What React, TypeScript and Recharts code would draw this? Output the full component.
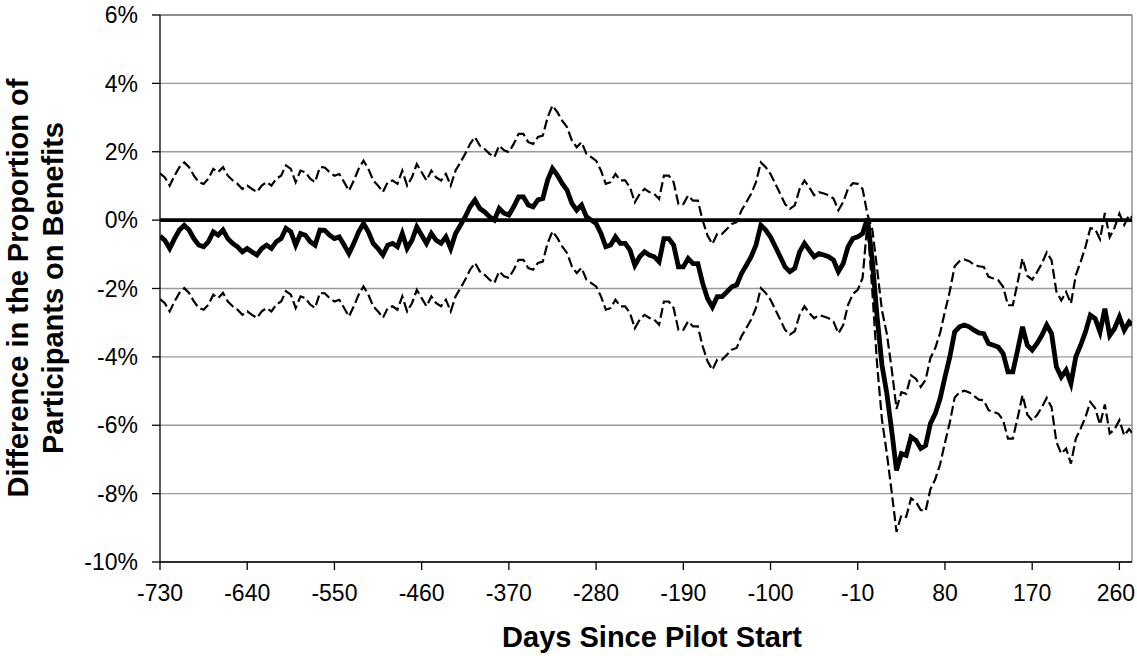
import React from "react";
import { LineChart, Line, XAxis, YAxis, CartesianGrid, ReferenceLine } from "recharts";

const days = [
  -730, -725, -720, -715, -710, -705, -700, -695, -690, -685, -680, -675, -670, -665, -660, -655, -650, -645, -640, -635,
  -630, -625, -620, -615, -610, -605, -600, -595, -590, -585, -580, -575, -570, -565, -560,
  -555, -550, -545, -540, -535, -530, -525, -520, -515, -510, -505, -500, -495, -490, -485, -480, -475, -470, -465, -460,
  -455, -450, -445, -440, -435, -430, -425, -420, -415, -410, -405, -400, -395,
  -390, -385, -380, -375, -370, -365, -360, -355, -350, -345, -340, -335, -330, -325, -320, -315, -310, -305, -300, -295,
  -290, -285, -280, -275, -270, -265, -260, -255, -250, -245, -240, -235, -230, -225,
  -220, -215, -210, -205, -200, -195, -190, -185, -180, -175, -170, -165, -160, -155, -150, -145, -140, -135, -130, -125,
  -120, -115, -110, -105, -100, -95, -90, -85, -80, -75, -70, -65, -60,
  -55, -50, -45, -40, -35, -30, -25, -20, -15, -10, -5, 0, 5, 10, 15, 20, 25, 30, 35, 40,
  45, 50, 55, 60, 65, 70, 75, 80, 85, 90, 95, 100, 105, 110, 115,
  120, 125, 130, 135, 140, 145, 150, 155, 160, 165, 170, 175, 180, 185, 190, 195, 200, 205, 210, 215,
  220, 225, 230, 235, 240, 245, 250, 255, 260, 265, 270, 273,
];

const central = [
  -0.47, -0.59, -0.83, -0.54, -0.29, -0.15, -0.29, -0.54, -0.73, -0.78, -0.63, -0.34, -0.44, -0.29, -0.54, -0.68, -0.78, -0.93, -0.83, -0.93,
  -1.02, -0.83, -0.73, -0.83, -0.63, -0.54, -0.24, -0.34, -0.73, -0.39, -0.44, -0.63, -0.73, -0.29, -0.30,
  -0.44, -0.54, -0.49, -0.73, -0.98, -0.68, -0.34, -0.10, -0.34, -0.68, -0.83, -1.02, -0.73, -0.68, -0.78, -0.39, -0.83, -0.59, -0.20, -0.44,
  -0.68, -0.39, -0.59, -0.68, -0.49, -0.83, -0.39, -0.15, 0.10, 0.39, 0.59, 0.34, 0.24,
  0.10, 0.00, 0.34, 0.20, 0.15, 0.39, 0.68, 0.68, 0.44, 0.39, 0.59, 0.63, 1.17, 1.51, 1.32, 1.07, 0.88, 0.49, 0.29, 0.44,
  0.10, 0.00, -0.10, -0.39, -0.78, -0.73, -0.49, -0.68, -0.68, -0.88, -1.32, -1.07, -0.93, -1.02,
  -1.07, -1.22, -0.54, -0.54, -0.73, -1.37, -1.37, -1.12, -1.27, -1.27, -1.85, -2.29, -2.54, -2.24, -2.24, -2.10, -1.95, -1.90, -1.56, -1.32,
  -1.07, -0.73, -0.15, -0.29, -0.49, -0.78, -1.07, -1.37, -1.51, -1.41, -0.93, -0.68, -0.88,
  -1.07, -0.98, -1.02, -1.07, -1.17, -1.51, -1.27, -0.78, -0.54, -0.49, -0.39, 0.05, -1.17, -2.83, -4.24, -5.07, -6.15, -7.32, -6.83, -6.88,
  -6.34, -6.44, -6.68, -6.59, -5.95, -5.66, -5.22, -4.59, -4.00, -3.27, -3.12, -3.07, -3.12, -3.22, -3.30,
  -3.32, -3.61, -3.66, -3.71, -3.90, -4.44, -4.44, -3.80, -3.12, -3.66, -3.80, -3.61, -3.37, -3.07, -3.32, -4.29, -4.59, -4.39, -4.78, -4.00,
  -3.66, -3.27, -2.78, -2.88, -3.27, -2.59, -3.37, -3.17, -2.83, -3.22, -2.98, -3.07,
];

const upper = [
  1.37, 1.25, 1.01, 1.30, 1.55, 1.69, 1.55, 1.30, 1.11, 1.06, 1.21, 1.50, 1.40, 1.55, 1.30, 1.16, 1.06, 0.91, 1.01, 0.91,
  0.82, 1.01, 1.11, 1.01, 1.21, 1.30, 1.60, 1.50, 1.11, 1.45, 1.40, 1.21, 1.11, 1.55, 1.54,
  1.40, 1.30, 1.35, 1.11, 0.86, 1.16, 1.50, 1.74, 1.50, 1.16, 1.01, 0.82, 1.11, 1.16, 1.06, 1.45, 1.01, 1.25, 1.64, 1.40,
  1.16, 1.45, 1.25, 1.16, 1.35, 1.01, 1.45, 1.69, 1.94, 2.23, 2.43, 2.18, 2.08,
  1.94, 1.84, 2.18, 2.04, 1.99, 2.23, 2.52, 2.52, 2.28, 2.23, 2.43, 2.47, 3.01, 3.35, 3.16, 2.91, 2.72, 2.33, 2.13, 2.28,
  1.94, 1.84, 1.74, 1.45, 1.06, 1.11, 1.35, 1.16, 1.16, 0.96, 0.52, 0.77, 0.91, 0.82,
  0.77, 0.62, 1.30, 1.30, 1.11, 0.47, 0.47, 0.72, 0.57, 0.57, -0.01, -0.45, -0.70, -0.40, -0.40, -0.26, -0.11, -0.06, 0.28, 0.52,
  0.77, 1.11, 1.69, 1.55, 1.35, 1.06, 0.77, 0.47, 0.33, 0.43, 0.91, 1.16, 0.96,
  0.73, 0.82, 0.78, 0.73, 0.63, 0.29, 0.53, 0.92, 1.08, 1.06, 0.91, 0.17, -0.27, -1.43, -2.64, -3.32, -4.35, -5.52, -5.03, -5.08,
  -4.54, -4.64, -4.88, -4.67, -4.03, -3.74, -3.30, -2.67, -2.08, -1.35, -1.20, -1.15, -1.20, -1.30, -1.35,
  -1.37, -1.66, -1.71, -1.76, -1.95, -2.49, -2.49, -1.82, -1.12, -1.63, -1.74, -1.52, -1.27, -0.94, -1.17, -2.09, -2.35, -2.10, -2.44, -1.61,
  -1.22, -0.78, -0.24, -0.26, -0.56, 0.21, -0.50, -0.22, 0.19, -0.14, 0.15, 0.08,
];

const lower = [
  -2.31, -2.43, -2.67, -2.38, -2.13, -1.99, -2.13, -2.38, -2.57, -2.62, -2.47, -2.18, -2.28, -2.13, -2.38, -2.52, -2.62, -2.77, -2.67, -2.77,
  -2.86, -2.67, -2.57, -2.67, -2.47, -2.38, -2.08, -2.18, -2.57, -2.23, -2.28, -2.47, -2.57, -2.13, -2.14,
  -2.28, -2.38, -2.33, -2.57, -2.82, -2.52, -2.18, -1.94, -2.18, -2.52, -2.67, -2.86, -2.57, -2.52, -2.62, -2.23, -2.67, -2.43, -2.04, -2.28,
  -2.52, -2.23, -2.43, -2.52, -2.33, -2.67, -2.23, -1.99, -1.74, -1.45, -1.25, -1.50, -1.60,
  -1.74, -1.84, -1.50, -1.64, -1.69, -1.45, -1.16, -1.16, -1.40, -1.45, -1.25, -1.21, -0.67, -0.33, -0.52, -0.77, -0.96, -1.35, -1.55, -1.40,
  -1.74, -1.84, -1.94, -2.23, -2.62, -2.57, -2.33, -2.52, -2.52, -2.72, -3.16, -2.91, -2.77, -2.86,
  -2.91, -3.06, -2.38, -2.38, -2.57, -3.21, -3.21, -2.96, -3.11, -3.11, -3.69, -4.13, -4.38, -4.08, -4.08, -3.94, -3.79, -3.74, -3.40, -3.16,
  -2.91, -2.57, -1.99, -2.13, -2.33, -2.62, -2.91, -3.21, -3.35, -3.25, -2.77, -2.52, -2.72,
  -2.87, -2.78, -2.82, -2.87, -2.97, -3.31, -3.07, -2.48, -2.16, -2.04, -1.69, -0.07, -2.07, -4.23, -5.84, -6.82, -7.95, -9.12, -8.63, -8.68,
  -8.14, -8.24, -8.48, -8.51, -7.87, -7.58, -7.14, -6.51, -5.92, -5.19, -5.04, -4.99, -5.04, -5.14, -5.25,
  -5.27, -5.56, -5.61, -5.66, -5.85, -6.39, -6.39, -5.78, -5.12, -5.69, -5.86, -5.70, -5.47, -5.20, -5.47, -6.49, -6.83, -6.68, -7.12, -6.39,
  -6.10, -5.76, -5.32, -5.50, -5.98, -5.39, -6.24, -6.12, -5.85, -6.30, -6.11, -6.22,
];

const xTicks = [-730, -640, -550, -460, -370, -280, -190, -100, -10, 80, 170, 260];
const yTicks = [-10, -8, -6, -4, -2, 0, 2, 4, 6];
const xTitle = "Days Since Pilot Start";
const yTitleLines = ["Difference in the Proportion of", "Participants on Benefits"];

const data = days.map((day, i) => ({ day, central: central[i], upper: upper[i], lower: lower[i] }));

const FONT = "'Liberation Sans', Arial, Helvetica, sans-serif";
const TICK_FONT = 23;

const XTick = (props: any) => {
  const { x, y, payload } = props;
  const label = String(payload.value);
  const approxW = label.length * TICK_FONT * 0.556;
  const cx = Math.min(x, 1135 - approxW / 2);
  return (
    <text x={cx} y={y} dy="0.71em" textAnchor="middle" fill="#000" fontSize={TICK_FONT} fontFamily={FONT}>
      {label}
    </text>
  );
};

export default function App() {
  return (
    <div style={{ position: "relative", width: 1137, height: 656, background: "#fff" }}>
      <style>{`body{margin:0;background:#fff;}`}</style>
      <LineChart width={1137} height={656} data={data} margin={{ top: 15, right: 5, bottom: 34, left: 0 }}>
        <CartesianGrid horizontal={true} vertical={false} stroke="#9a9a9a" strokeWidth={1.3} />
        <XAxis
          type="number"
          dataKey="day"
          domain={[-730, 273]}
          ticks={xTicks}
          interval={0}
          allowDataOverflow
          height={60}
          tickSize={8}
          tickMargin={15}
          tick={<XTick />}
          axisLine={{ stroke: "#000", strokeWidth: 1.3 }}
          tickLine={{ stroke: "#000", strokeWidth: 1.3 }}
        />
        <YAxis
          type="number"
          domain={[-10, 6]}
          ticks={yTicks}
          interval={0}
          allowDataOverflow
          width={160}
          tickSize={8}
          tickMargin={14}
          tickFormatter={(v: number) => `${v}%`}
          tick={{ fill: "#000", fontSize: TICK_FONT, fontFamily: FONT }}
          axisLine={{ stroke: "#000", strokeWidth: 1.3 }}
          tickLine={{ stroke: "#000", strokeWidth: 1.3 }}
        />
        <ReferenceLine y={6} stroke="#808080" strokeWidth={1.3} />
        <ReferenceLine x={273} stroke="#808080" strokeWidth={1.3} />
        <ReferenceLine y={0} stroke="#000" strokeWidth={3.8} />
        <Line type="linear" dataKey="upper" stroke="#000" strokeWidth={2.2} strokeDasharray="10 4" dot={false} activeDot={false} isAnimationActive={false} />
        <Line type="linear" dataKey="lower" stroke="#000" strokeWidth={2.2} strokeDasharray="10 4" dot={false} activeDot={false} isAnimationActive={false} />
        <Line type="linear" dataKey="central" stroke="#000" strokeWidth={4.8} dot={false} activeDot={false} isAnimationActive={false} />
      </LineChart>
      <svg
        width={1137}
        height={656}
        style={{ position: "absolute", left: 0, top: 0, pointerEvents: "none" }}
      >
        <text x={652} y={647} textAnchor="middle" fontFamily={FONT} fontWeight="bold" fontSize={29} fill="#000">
          {xTitle}
        </text>
        <text transform="translate(28,288) rotate(-90)" textAnchor="middle" fontFamily={FONT} fontWeight="bold" fontSize={29} fill="#000">
          {yTitleLines[0]}
        </text>
        <text transform="translate(63,288) rotate(-90)" textAnchor="middle" fontFamily={FONT} fontWeight="bold" fontSize={29} fill="#000">
          {yTitleLines[1]}
        </text>
      </svg>
    </div>
  );
}
